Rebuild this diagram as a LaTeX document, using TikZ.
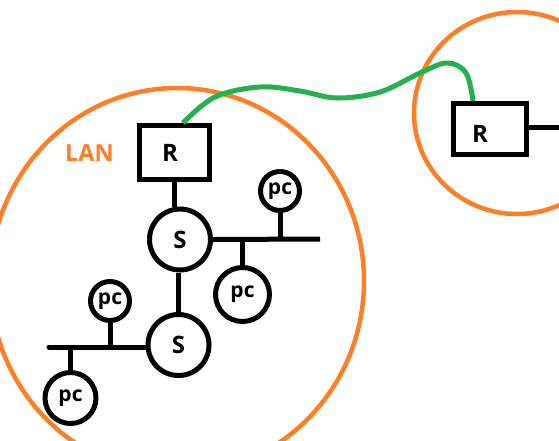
\documentclass[tikz,border=0pt]{standalone}
\usepackage{fontspec}
\setmainfont{Open Sans}
\definecolor{paintorange}{HTML}{FF7F27}
\definecolor{paintgreen}{HTML}{22B14C}
\begin{document}
\begin{tikzpicture}[x=1pt,y=-1pt,
  wire/.style={line width=5pt,black},
  ring/.style={line width=4.5pt,paintorange},
  link/.style={line width=5pt,paintgreen},
  router/.style={draw,line width=5pt,rectangle,inner sep=0pt},
  switch/.style={draw,line width=5pt,circle,inner sep=0pt,minimum size=61pt,font=\fontsize{24}{24}\selectfont\bfseries},
  host/.style={draw,line width=5pt,circle,inner sep=0pt,font=\fontsize{21}{21}\selectfont\bfseries},
  lbl/.style={inner sep=0pt,font=\fontsize{24}{24}\selectfont\bfseries}]
\useasboundingbox (0,0) rectangle (559,440);
\fill[white] (0,0) rectangle (559,440);
% LAN rings
\draw[ring] (177,281) ellipse [x radius=187, y radius=193];
\draw[ring] (517,113) ellipse [x radius=103, y radius=101];
\node[inner sep=0pt,text=paintorange,font=\fontsize{23.5}{24}\selectfont\bfseries] (lan) at (89.5,153) {LAN};
% routers
\node[router,minimum width=70pt,minimum height=54pt] (rL) at (174.5,152.5) {};
\node[lbl] (rLt) at (170,153) {R};
\node[router,minimum width=73pt,minimum height=51pt] (rR) at (490,129) {};
\node[lbl] (rRt) at (480,134) {R};
% switches
\node[switch] (s1) at (180,239.5) {S};
\node[switch] (s2) at (178.5,345) {S};
% hosts
\node[host,minimum size=39pt] (pc1) at (280,191) {pc};
\node[host,minimum size=54pt] (pc2) at (242.5,294.5) {pc};
\node[host,minimum size=39pt] (pc3) at (110,301) {pc};
\node[host,minimum size=51pt] (pc4) at (70.5,398) {pc};
% bus coordinates
\coordinate (b1end) at (320,239);
\coordinate (b2end) at (49,347);
\coordinate (rRend) at (559,127);
% wiring
\draw[wire] (rL.south) -- (rL.south |- s1.north);
\draw[wire] (s2.north |- s1.south) -- (s2.north);
\draw[wire] (s1.east) -- (b1end);
\draw[wire] (pc1.south) -- (pc1.south |- b1end);
\draw[wire] (pc2.north |- b1end) -- (pc2.north);
\draw[wire,line cap=round] (s2.west |- b2end) -- (b2end);
\draw[wire] (pc3.south) -- (pc3.south |- b2end);
\draw[wire] (pc4.north |- b2end) -- (pc4.north);
\draw[wire] (rR.east |- rRend) -- (rRend);
% WAN link
\draw[link] plot[smooth,tension=0.6] coordinates {([xshift=8.5pt]rL.north) (215,97) (260,87) (300,91) (337,98) (380,92) (420,73) (447,63) (466,73) ([xshift=-17pt]rR.north)};
\end{tikzpicture}
\end{document}
